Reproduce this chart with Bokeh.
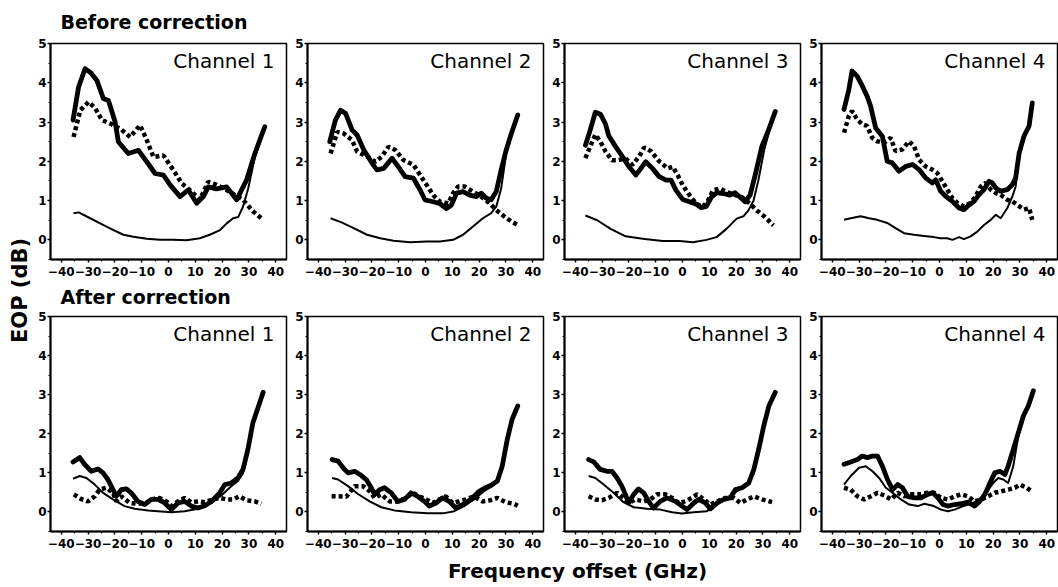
import math
from bokeh.plotting import figure
from bokeh.layouts import row, column
from bokeh.models import FixedTicker, Range1d, Label
from bokeh.embed import file_html
from bokeh.resources import INLINE

# ---------------- data ----------------
x_ticks = [-40, -30, -20, -10, 0, 10, 20, 30, 40]
x_minor = [-35, -25, -15, -5, 5, 15, 25, 35]
y_ticks = [0, 1, 2, 3, 4, 5]
y_minor = [-0.5, 0.5, 1.5, 2.5, 3.5, 4.5]
channels = ["Channel 1", "Channel 2", "Channel 3", "Channel 4"]
row_titles = ["Before correction", "After correction"]
x_label = "Frequency offset (GHz)"
y_label = "EOP (dB)"

# Before correction
b1_thick_x = [-35.6,-33.5,-31.1,-28.9,-26.7,-24.3,-22.4,-19.9,-18.7,-15,-11.2,-8.1,-5,-1.9,0.6,4.3,7.4,10.5,13,14.8,17.9,21.7,25.4,29.1,32.2,35.9]
b1_thick_y = [3.05,3.9,4.36,4.25,4.06,3.6,3.55,3.0,2.5,2.2,2.28,1.99,1.69,1.65,1.4,1.1,1.27,0.93,1.1,1.35,1.3,1.35,1.02,1.52,2.2,2.88]
b1_dot_x = [-35.4,-32.9,-29.8,-27.3,-24.8,-21.7,-18,-14.3,-10.6,-8.1,-5.6,-1.9,1.8,4.9,8.6,11.7,14.8,17.9,21.7,24.8,27.8,31.6,35.3]
b1_dot_y = [2.62,3.3,3.51,3.35,3.05,2.96,2.83,2.62,2.92,2.54,2.11,2.15,1.78,1.44,1.23,1.02,1.48,1.4,1.27,1.14,1.02,0.72,0.51]
b1_thin_x = [-35.4,-33.5,-29.2,-25.5,-20.5,-16.8,-13.1,-8.1,-3.2,1.8,6.7,11.7,15.4,19.2,21.7,24.1,26,27.8,29.7,32.2,35.9]
b1_thin_y = [0.68,0.7,0.55,0.42,0.25,0.13,0.08,0.03,0.0,0.0,-0.01,0.04,0.13,0.25,0.42,0.55,0.58,0.85,1.3,2.1,2.85]

b2_thick_x = [-35.7,-33.6,-31.7,-29.8,-27.4,-25.5,-23,-19.9,-18.1,-15.6,-12.5,-10.1,-7.6,-4.5,-2,-0.2,2.9,5.4,7.8,9.7,11.6,14,16.5,19,20.8,22.7,24.5,26.4,28.2,30.1,32,34.4]
b2_thick_y = [2.5,3.05,3.3,3.22,2.8,2.67,2.29,1.95,1.78,1.82,2.08,1.86,1.61,1.57,1.27,1.02,0.97,0.92,0.8,0.89,1.19,1.23,1.14,1.1,1.19,1.06,1.02,1.23,1.78,2.29,2.71,3.18]
b2_dot_x = [-35.4,-32.9,-30.5,-27.4,-25.5,-21.8,-18.7,-16.3,-13.8,-11.3,-8.2,-4.5,-2,0.4,2.9,5.4,8.5,10.3,12.2,14.6,17.7,20.8,23.9,26.4,29.5,32,34.4]
b2_dot_y = [2.2,2.75,2.71,2.54,2.25,2.12,1.99,2.12,2.37,2.29,2.03,1.91,1.65,1.4,1.14,0.97,0.93,1.19,1.36,1.36,1.23,1.1,0.93,0.76,0.59,0.47,0.38]
b2_thin_x = [-35.4,-31.1,-26.8,-21.8,-16.9,-11.9,-5.7,0.4,5.4,10.3,14,17.7,21.4,24.5,26.4,28.2,30.1,32,34.4]
b2_thin_y = [0.55,0.44,0.3,0.13,0.04,-0.02,-0.06,-0.04,-0.04,0,0.13,0.34,0.55,0.68,0.85,1.3,2.2,2.7,3.15]

b3_thick_x = [-36.2,-34.4,-32.5,-30.6,-28.7,-27.5,-25,-22.4,-19.9,-17.4,-15.5,-13.7,-11.2,-8.7,-6.1,-4.3,-2.4,0.1,2.6,5.1,7,8.9,10.8,12.7,15.2,17.7,19.6,21.4,23.3,25.2,27.1,29.6,32.1,34.6]
b3_thick_y = [2.41,2.8,3.25,3.2,2.95,2.65,2.38,2.12,1.86,1.65,1.82,1.99,1.82,1.61,1.52,1.52,1.26,1.03,0.97,0.91,0.82,0.85,1.09,1.2,1.18,1.14,1.2,1.09,0.97,1.14,1.65,2.38,2.8,3.27]
b3_dot_x = [-36.2,-34.4,-32.5,-30.6,-28.7,-26.3,-23.8,-21.3,-18.7,-16.2,-14.3,-11.8,-8.7,-5.5,-3.6,-1.8,0.1,2.6,5.1,7.6,9.5,11.4,13.9,16.4,19.6,22.1,25.2,27.7,30.8,33.9]
b3_dot_y = [2.08,2.38,2.68,2.5,2.25,2.03,2.03,2.08,1.91,2.12,2.35,2.26,2.0,1.82,1.86,1.65,1.39,1.14,0.92,0.84,1.0,1.26,1.31,1.22,1.14,1.09,0.92,0.75,0.58,0.37]
b3_thin_x = [-36.2,-31.8,-26.8,-21.2,-14.9,-7.4,-1.1,3.9,8.9,12.7,16.4,20.2,22.7,24.6,26.5,28.3,30.5,32.5,34.6]
b3_thin_y = [0.62,0.5,0.28,0.09,0.03,-0.03,-0.03,-0.06,0,0.07,0.28,0.54,0.6,0.75,1.0,1.52,2.3,2.8,3.25]

b4_thick_x = [-35.6,-33.8,-32.6,-30.7,-28.8,-27,-25.7,-23.8,-21.3,-19.5,-17.6,-15.1,-12.6,-10.1,-7.6,-5.2,-2.7,-1.4,0.4,2.3,4.8,7.3,9.1,11,12.9,14.7,16.6,18.5,19.7,21,22.8,25.3,27.2,28.4,29.7,31.5,33.4,34.6]
b4_thick_y = [3.32,3.83,4.3,4.17,3.92,3.66,3.41,2.85,2.64,2.0,1.96,1.75,1.87,1.92,1.79,1.58,1.45,1.53,1.24,1.11,0.98,0.81,0.77,0.89,0.98,1.15,1.28,1.49,1.45,1.32,1.24,1.28,1.41,1.58,2.21,2.64,2.9,3.49]
b4_dot_x = [-35.6,-33.8,-32.6,-30.7,-28.8,-27,-25.1,-23.2,-20.7,-18.2,-16.4,-13.9,-11.4,-9.5,-7.6,-5.2,-2.7,-0.8,1.1,2.9,4.8,6.7,9.1,11.6,13.5,15.4,17.2,19.1,21,22.8,25.3,27.2,29,31.5,33.4,34.6]
b4_dot_y = [2.73,3.15,3.28,3.07,2.94,2.9,2.6,2.51,2.47,2.6,2.26,2.3,2.51,2.39,2.04,1.87,1.79,1.7,1.49,1.28,1.06,0.94,0.85,0.94,1.11,1.36,1.45,1.28,1.19,1.15,1.02,0.98,0.89,0.77,0.81,0.51]
b4_thin_x = [-35.6,-33.1,-29.4,-26.3,-23.2,-19.5,-16.4,-13.2,-9.5,-5.8,-2.1,0.4,2.9,4.8,7.3,9.1,11.6,14.1,16.6,19.1,21,22.8,25.3,27.2,28.4,29.7,31.5,33.4,34.6]
b4_thin_y = [0.51,0.55,0.6,0.55,0.51,0.43,0.3,0.17,0.13,0.1,0.07,0.04,0.04,0,0.07,0.02,0.09,0.21,0.38,0.51,0.64,0.55,0.81,1.11,1.36,2.15,2.6,2.88,3.45]

# After correction
a1_thick_x = [-35.6,-33.1,-31.3,-28.8,-26.3,-24.4,-22.6,-20.7,-19.5,-17.6,-15.7,-13.9,-11.4,-8.9,-6.4,-3.9,-1.4,1.1,3.5,6,8.5,11,13.5,16,19.1,21,23.4,25.9,27.8,29.6,31.5,33.4,35.3]
a1_thick_y = [1.28,1.39,1.22,1.04,1.1,1.0,0.83,0.57,0.4,0.57,0.59,0.49,0.27,0.19,0.32,0.32,0.23,0.06,0.23,0.27,0.15,0.1,0.16,0.27,0.49,0.7,0.74,0.87,1.09,1.6,2.29,2.67,3.06]
a1_dot_x = [-35.3,-32.5,-30,-27.5,-25.7,-23.2,-20.7,-19.5,-17.6,-14.5,-11.4,-8.3,-5.8,-3.3,-0.8,1.1,3.5,6,8.5,11,13.5,16.6,19.1,21.6,24.1,26.5,29,32.2,34.6]
a1_dot_y = [0.45,0.33,0.27,0.4,0.57,0.62,0.49,0.27,0.4,0.23,0.21,0.23,0.33,0.36,0.27,0.15,0.27,0.36,0.25,0.27,0.25,0.32,0.36,0.32,0.32,0.4,0.3,0.27,0.21]
a1_thin_x = [-35.6,-33.1,-30.6,-27.5,-24.4,-20.7,-16.4,-12.6,-7.6,-2.7,1.1,6,11,16,19.7,23.4,25.9,27.8,29.6,31.5,33.4,35.3]
a1_thin_y = [0.85,0.92,0.87,0.7,0.49,0.32,0.15,0.08,0.04,0.01,-0.01,0.02,0.08,0.23,0.42,0.66,0.79,1.0,1.55,2.25,2.65,3.0]

a2_thick_x = [-34.8,-32.6,-30.7,-28.9,-26.4,-24.5,-22.1,-20.2,-19,-17.1,-15.3,-12.8,-10.3,-7.8,-5.4,-2.9,-0.4,1.4,3.9,6.4,8.8,11.3,13.8,16.9,20,22.4,24.9,26.8,28.6,30.5,32.3,34.4]
a2_thick_y = [1.34,1.3,1.13,1.0,1.04,0.96,0.83,0.62,0.45,0.57,0.62,0.49,0.27,0.32,0.49,0.4,0.27,0.15,0.23,0.36,0.27,0.1,0.19,0.32,0.53,0.62,0.7,0.79,1.17,1.86,2.37,2.71]
a2_dot_x = [-35,-32.6,-29.5,-26.4,-23.3,-20.8,-19,-16.5,-13.4,-10.3,-7.2,-4.8,-2.3,0.2,2.7,5.1,7.6,10.1,12.5,15,18.1,21.2,24.3,26.8,29.8,32.9,34.4]
a2_dot_y = [0.4,0.4,0.39,0.66,0.66,0.53,0.36,0.45,0.27,0.27,0.36,0.49,0.4,0.32,0.23,0.32,0.4,0.23,0.27,0.32,0.4,0.27,0.3,0.36,0.25,0.21,0.16]
a2_thin_x = [-34.8,-32.6,-28.9,-25.2,-20.8,-16.5,-11.6,-5.4,0.8,7,10.7,14.4,18.1,21.8,24.9,27.4,29,30.5,32.3,34.4]
a2_thin_y = [0.87,0.83,0.66,0.46,0.27,0.12,0.04,-0.01,-0.03,-0.03,0.02,0.15,0.32,0.53,0.66,0.87,1.3,1.85,2.35,2.7]

a3_thick_x = [-35,-33.1,-30.7,-28.2,-26.3,-24.4,-22.6,-21.3,-20.1,-18.2,-16.4,-14.5,-12.6,-10.8,-8.3,-5.8,-2.7,-0.2,1.7,4.2,6,8.5,10.4,12.9,15.4,17.8,19.7,22.2,24.7,26.6,28.4,30.3,32.2,34.6]
a3_thick_y = [1.34,1.28,1.09,1.04,1.04,0.87,0.66,0.45,0.23,0.45,0.59,0.49,0.27,0.1,0.27,0.36,0.27,0.15,0.06,0.23,0.32,0.23,0.08,0.23,0.32,0.36,0.57,0.62,0.74,1.09,1.6,2.2,2.71,3.06]
a3_dot_x = [-35,-32.5,-30,-27.5,-24.4,-22,-20.1,-17.6,-14.5,-12,-9.5,-6.4,-3.9,-1.4,1.1,3.5,5.4,7.9,10.4,12.9,16,19.1,21.6,24.1,26.6,29.7,33.4]
a3_dot_y = [0.4,0.32,0.3,0.36,0.49,0.36,0.23,0.32,0.27,0.32,0.45,0.45,0.36,0.23,0.27,0.36,0.45,0.32,0.19,0.27,0.36,0.36,0.23,0.32,0.4,0.32,0.25]
a3_thin_x = [-35,-32.5,-29.4,-25.7,-22,-18.2,-13.2,-8.3,-3.9,-0.2,4.2,9.1,12.9,16.6,20.3,24.1,26.6,28.4,30.3,32.2,34.6]
a3_thin_y = [0.92,0.87,0.7,0.49,0.25,0.12,0.08,0.06,-0.01,-0.04,-0.01,0.02,0.19,0.36,0.53,0.7,1.0,1.55,2.15,2.7,3.05]

a4_thick_x = [-35.6,-33.1,-30.6,-28.8,-26.9,-25,-23.1,-21.3,-19.4,-17.5,-15.6,-13.8,-11.9,-9.4,-6.9,-4.4,-2.5,-0.6,1.3,3.1,5.6,8.1,10.6,13.1,15,16.9,18.8,20.6,22.5,24.4,25.6,27.5,29.4,31.3,33.1,35]
a4_thick_y = [1.22,1.28,1.34,1.43,1.39,1.43,1.43,1.17,0.83,0.57,0.7,0.62,0.4,0.36,0.36,0.45,0.49,0.36,0.19,0.15,0.19,0.21,0.25,0.15,0.27,0.45,0.74,1.0,1.04,0.96,1.17,1.6,2.03,2.46,2.71,3.1]
a4_dot_x = [-35.6,-33.1,-30.6,-28.1,-25.6,-23.1,-20.6,-18.1,-15.6,-13.1,-10.6,-7.5,-4.4,-1.9,0.6,3.1,5.6,8.1,10.6,13.1,15.6,18.1,20.6,23.1,25.6,28.1,30,32.5,34.4]
a4_dot_y = [0.62,0.57,0.4,0.32,0.4,0.49,0.42,0.32,0.49,0.4,0.45,0.45,0.49,0.49,0.36,0.32,0.4,0.45,0.4,0.27,0.32,0.4,0.49,0.53,0.57,0.62,0.7,0.62,0.53]
a4_thin_x = [-35.6,-33.1,-30,-27.5,-25,-22.5,-20,-17.5,-14.4,-11.3,-8.1,-5.6,-2.5,0.6,3.1,5.6,8.8,11.9,15,17.5,20,21.9,23.8,25.6,27.5,29.4,31.3,33.1,35]
a4_thin_y = [0.7,0.92,1.13,1.17,1.04,0.87,0.62,0.49,0.32,0.19,0.15,0.21,0.16,0.06,0.02,0.06,0.15,0.21,0.32,0.49,0.74,0.87,0.83,0.74,1.17,1.95,2.4,2.7,3.05]

panels = [
    [(b1_thick_x, b1_thick_y, b1_dot_x, b1_dot_y, b1_thin_x, b1_thin_y),
     (b2_thick_x, b2_thick_y, b2_dot_x, b2_dot_y, b2_thin_x, b2_thin_y),
     (b3_thick_x, b3_thick_y, b3_dot_x, b3_dot_y, b3_thin_x, b3_thin_y),
     (b4_thick_x, b4_thick_y, b4_dot_x, b4_dot_y, b4_thin_x, b4_thin_y)],
    [(a1_thick_x, a1_thick_y, a1_dot_x, a1_dot_y, a1_thin_x, a1_thin_y),
     (a2_thick_x, a2_thick_y, a2_dot_x, a2_dot_y, a2_thin_x, a2_thin_y),
     (a3_thick_x, a3_thick_y, a3_dot_x, a3_dot_y, a3_thin_x, a3_thin_y),
     (a4_thick_x, a4_thick_y, a4_dot_x, a4_dot_y, a4_thin_x, a4_thin_y)],
]

# ---------------- styling ----------------
FONT = "DejaVu Sans"
YLAB_W = 32
BL = 18
BR = [3, 3, 3, 1]
FRAME_W = [236, 236, 236, 236]
GRID_W = sum(BL + w + b for w, b in zip(FRAME_W, BR))
# per row: (title band height, title baseline from band bottom, border_top, frame_h, border_bottom)
ROW_GEOM = [
    (33, 12, 10, 216, 22),
    (28, 13, 7, 215, 25),
]
XLAB_H = 31


def blank(width, height):
    f = figure(width=width, height=height, x_range=Range1d(0, width), y_range=Range1d(0, height),
               x_axis_type=None, y_axis_type=None, output_backend="svg",
               toolbar_location=None, min_border=0, outline_line_color=None)
    f.xgrid.visible = False
    f.ygrid.visible = False
    return f


def make_panel(series, label, frame_w, br, geom):
    _, _, top, fh, bottom = geom
    p = figure(width=BL + frame_w + br, height=top + fh + bottom,
               x_range=Range1d(-44, 44), y_range=Range1d(-0.5, 5),
               output_backend="svg", toolbar_location=None, title=None,
               min_border_left=BL, min_border_right=br,
               min_border_top=top, min_border_bottom=bottom)
    p.xgrid.visible = False
    p.ygrid.visible = False
    p.outline_line_color = "black"
    p.outline_line_width = 1.5
    p.background_fill_color = "white"
    p.border_fill_color = "white"

    p.xaxis.ticker = FixedTicker(ticks=x_ticks, minor_ticks=x_minor)
    p.yaxis.ticker = FixedTicker(ticks=y_ticks, minor_ticks=y_minor)
    for ax in (p.xaxis[0], p.yaxis[0]):
        ax.axis_line_color = "black"
        ax.axis_line_width = 2
        ax.major_tick_line_color = "black"
        ax.major_tick_line_width = 1.5
        ax.minor_tick_line_color = "black"
        ax.minor_tick_line_width = 1.2
        ax.major_tick_in = 0
        ax.major_tick_out = 3
        ax.minor_tick_in = 0
        ax.minor_tick_out = 2
        ax.major_label_text_font = FONT
        ax.major_label_text_font_style = "bold"
        ax.major_label_text_font_size = "12px"
        ax.major_label_text_color = "black"
    p.xaxis.major_label_standoff = 4
    p.yaxis.major_label_standoff = 1

    tx, ty, dx, dy, nx, ny = series
    p.line(nx, ny, line_color="black", line_width=2, line_join="round")
    p.line(dx, dy, line_color="black", line_width=4.5, line_dash="4 3")
    p.line(tx, ty, line_color="black", line_width=4.8, line_join="round", line_cap="round")

    p.add_layout(Label(x=39.5, y=4.56, text=label, text_align="right",
                       text_baseline="alphabetic", text_font=FONT,
                       text_font_size="20px", text_color="black"))
    return p


blocks = []
for r in range(2):
    band_h, base, top, fh, bottom = ROW_GEOM[r]
    band = blank(GRID_W, band_h)
    band.add_layout(Label(x=BL + 10, y=base, text=row_titles[r], text_align="left",
                          text_baseline="alphabetic", text_font=FONT,
                          text_font_style="bold", text_font_size="19px",
                          text_color="black"))
    figs = [make_panel(panels[r][c], channels[c], FRAME_W[c], BR[c], ROW_GEOM[r])
            for c in range(4)]
    blocks.append(band)
    blocks.append(row(*figs, spacing=0))

grid_h = sum(g[0] + g[2] + g[3] + g[4] for g in ROW_GEOM)

ylab = blank(YLAB_W, grid_h)
ylab.add_layout(Label(x=19, y=grid_h - 290, text=y_label, angle=math.pi / 2,
                      text_align="center", text_baseline="middle",
                      text_font=FONT, text_font_style="bold",
                      text_font_size="21px", text_color="black"))

total_w = YLAB_W + GRID_W
xlab = blank(total_w, XLAB_H)
xlab.add_layout(Label(x=577, y=17, text=x_label, text_align="center",
                      text_baseline="alphabetic", text_font=FONT,
                      text_font_style="bold", text_font_size="20px",
                      text_color="black"))

layout = column(row(ylab, column(*blocks, spacing=0), spacing=0), xlab, spacing=0)

open("out.html", "w").write(file_html(layout, INLINE))
